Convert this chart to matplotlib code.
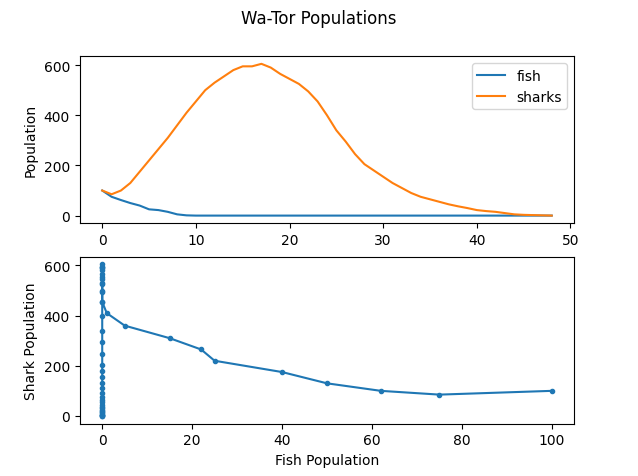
import matplotlib
matplotlib.use("Agg")
import matplotlib.pyplot as plt

# values
steps = list(range(49))
fish = [100, 75, 62, 50, 40, 25, 22, 15, 5, 1] + [0] * 39
sharks = [100, 85, 100, 130, 175, 220, 265, 310, 360, 410,
          455, 500, 530, 555, 580, 595, 595, 605, 590, 565,
          545, 525, 495, 455, 400, 340, 295, 245, 205, 180,
          155, 130, 110, 90, 75, 65, 55, 45, 37, 30,
          22, 18, 15, 10, 5, 3, 2, 1, 0]

fig, (ax1, ax2) = plt.subplots(2, 1, figsize=(6.38, 4.77), dpi=100)
fig.suptitle("Wa-Tor Populations")

ax1.plot(steps, fish, label="fish")
ax1.plot(steps, sharks, label="sharks")
ax1.set_ylabel("Population")
ax1.legend()

ax2.plot(fish, sharks, marker="o", markersize=3)
ax2.set_xlabel("Fish Population")
ax2.set_ylabel("Shark Population")

fig.savefig("out.png")
